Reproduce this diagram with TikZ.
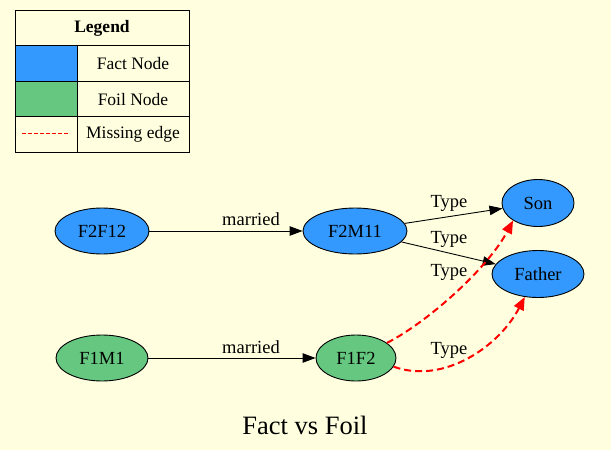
\documentclass[tikz,border=0pt]{standalone}
\usepackage{fontspec}
\setmainfont{Liberation Serif}
\usetikzlibrary{arrows.meta,shapes.geometric}
\definecolor{bg}{RGB}{255,255,224}
\definecolor{factblue}{RGB}{51,153,255}
\definecolor{foilgreen}{RGB}{102,200,128}
\definecolor{missred}{RGB}{255,0,0}
\tikzset{
  gnode/.style={ellipse, draw=black, line width=0.9pt, inner sep=0pt, font=\fontsize{18.5}{20}\selectfont},
  fact/.style={gnode, fill=factblue},
  foil/.style={gnode, fill=foilgreen},
  lbl/.style={inner sep=0pt, font=\fontsize{18.5}{20}\selectfont},
  legtxt/.style={inner sep=0pt, font=\fontsize{17.5}{19}\selectfont},
  factedge/.style={draw=black, line width=0.9pt, -{Triangle[length=13pt,width=9.5pt]}},
  missedge/.style={draw=missred, line width=2pt, dash pattern=on 7pt off 4pt, -{Triangle[length=13pt,width=10.5pt]}},
  legdash/.style={color=red, line width=1.4pt, dash pattern=on 4pt off 2pt},
}
\begin{document}
\begin{tikzpicture}[x=1pt,y=-1pt]
\fill[bg] (0,0) rectangle (611,450);
\useasboundingbox (0,0) rectangle (611,450);

% Legend
\fill[factblue] (15.5,45.5) rectangle (77,81);
\fill[foilgreen] (15.5,81) rectangle (77,116.5);
\draw[line width=0.9pt] (15.5,10.5) rectangle (189,152);
\draw[line width=0.9pt] (15.5,45.5) -- (189,45.5);
\draw[line width=0.9pt] (15.5,81) -- (189,81);
\draw[line width=0.9pt] (15.5,116.5) -- (189,116.5);
\draw[line width=0.9pt] (77,45.5) -- (77,152);
\node[legtxt, font=\fontsize{17.5}{19}\selectfont\bfseries] (leghead) at (102,28) {Legend};
\node[legtxt] (legfact) at (133,64) {Fact Node};
\node[legtxt] (legfoil) at (133,99.5) {Foil Node};
\node[legtxt] (legmiss) at (133,134.5) {Missing edge};
\coordinate (ms) at (22,133.5);
\coordinate (me) at (70,133.5);
\draw[legdash] (ms) -- (me);

% Nodes
\node[fact, minimum width=94pt, minimum height=46pt] (f2f12) at (102,231) {F2F12};
\node[fact, minimum width=104pt, minimum height=46pt] (f2m11) at (355,231) {F2M11};
\node[fact, minimum width=72pt, minimum height=47pt] (son) at (538,203) {Son};
\node[fact, minimum width=92pt, minimum height=47pt] (father) at (538,274) {Father};
\node[foil, minimum width=92pt, minimum height=46pt] (f1m1) at (102,358) {F1M1};
\node[foil, minimum width=80pt, minimum height=46pt] (f1f2) at (356,358) {F1F2};

% Fact edges
\draw[factedge] (f2f12) -- (f2m11);
\draw[factedge] (f1m1) -- (f1f2);
\draw[factedge] (f2m11) -- (son);
\draw[factedge] (f2m11) -- (father);

% Missing edges
\draw[missedge] (f1f2.26) .. controls (428,322) and (488,268) .. (son.215);
\draw[missedge] (f1f2.347) .. controls (445,385) and (500,345) .. (father.240);

% Labels
\node[lbl] (m1) at (251,219) {married};
\node[lbl] (m2) at (251,347) {married};
\node[lbl] (t1) at (449,203) {Type};
\node[lbl] (t2) at (449,239.5) {Type};
\node[lbl] (t3) at (449,272.5) {Type};
\node[lbl] (t4) at (449,350.5) {Type};

% Title
\node[inner sep=0pt, font=\fontsize{26.5}{28}\selectfont] (title) at (305,425) {Fact vs Foil};
\end{tikzpicture}
\end{document}
